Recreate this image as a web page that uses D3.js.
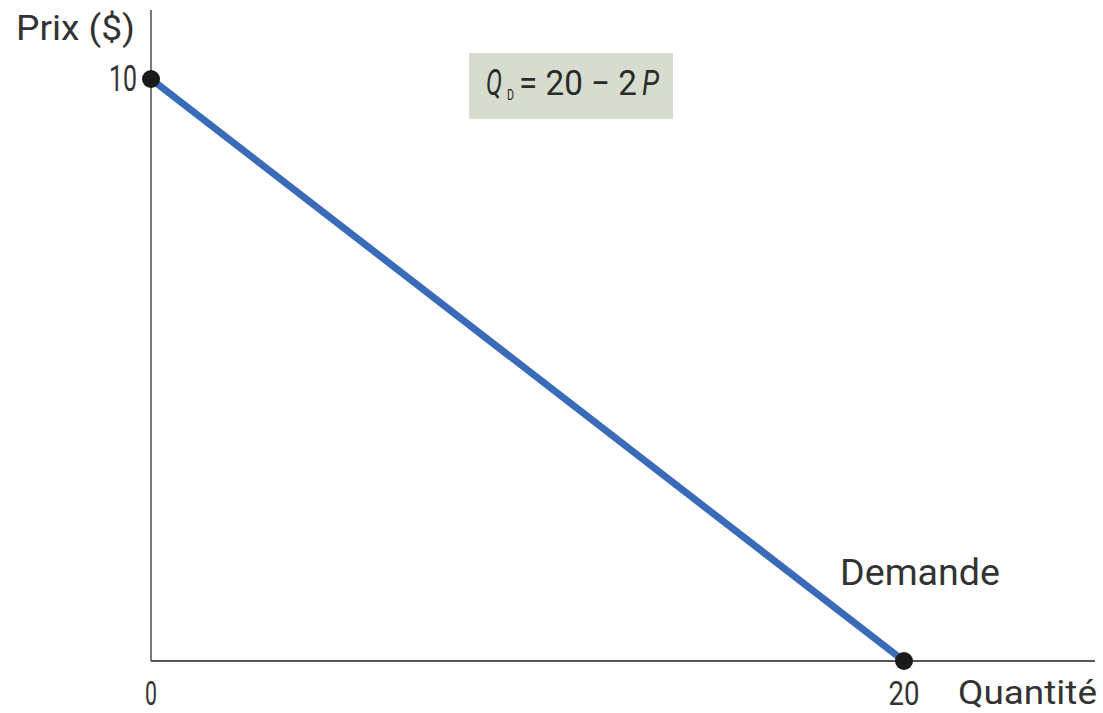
<!DOCTYPE html>
<html><head><meta charset="utf-8">
<script src="https://cdn.jsdelivr.net/npm/d3@7"></script>
<style>body{margin:0;background:#fff}</style>
</head><body>
<script>
const quantities = [0, 20];
const prices = [10, 0];
const xTicks = [0, 20];
const yTicks = [10];
const curveLabel = "Demande";
const xTitle = "Quantité";
const yTitle = "Prix ($)";

const W = 1103, H = 713;
const svg = d3.select("body").append("svg").attr("width", W).attr("height", H);
const x = d3.scaleLinear().domain([0, 20]).range([151, 904]);
const y = d3.scaleLinear().domain([0, 10]).range([661, 79]);
const font = "Roboto, sans-serif";
const txt = "#333";
const numWidth = s => String(s).length === 1 ? 12 : 31;

// axes
svg.append("line").attr("x1", x(0)).attr("x2", x(0)).attr("y1", 10).attr("y2", y(0))
  .attr("stroke", "#7a7a7a").attr("stroke-width", 2);
svg.append("line").attr("x1", x(0)).attr("x2", 1095).attr("y1", y(0)).attr("y2", y(0))
  .attr("stroke", "#555").attr("stroke-width", 2);

// tick labels (condensed digits)
svg.selectAll(".xt").data(xTicks).enter().append("text")
  .attr("x", d => x(d) - numWidth(d) / 2).attr("y", 705)
  .attr("textLength", d => numWidth(d)).attr("lengthAdjust", "spacingAndGlyphs")
  .attr("font-family", font).attr("font-size", 34).attr("fill", txt).text(d => d);
svg.selectAll(".yt").data(yTicks).enter().append("text")
  .attr("x", d => x(0) - 12 - numWidth(d) + 1).attr("y", d => y(d) + 12)
  .attr("textLength", d => numWidth(d) - 3).attr("lengthAdjust", "spacingAndGlyphs")
  .attr("font-family", font).attr("font-size", 36).attr("fill", txt).text(d => d);

// titles
svg.append("text").attr("x", 16).attr("y", 40).attr("font-family", font)
  .attr("textLength", 119).attr("lengthAdjust", "spacingAndGlyphs")
  .attr("font-size", 35).attr("fill", txt).text(yTitle);
svg.append("text").attr("x", 958).attr("y", 704).attr("font-family", font)
  .attr("textLength", 139).attr("lengthAdjust", "spacingAndGlyphs")
  .attr("font-size", 34).attr("fill", txt).text(xTitle);

// equation box
svg.append("rect").attr("x", 469).attr("y", 53).attr("width", 204).attr("height", 66).attr("fill", "#d6ddcf");
const eqParts = [
  {t: "Q", x0: 486, w: 16, it: true, fs: 36, base: 95},
  {t: "D", x0: 507, w: 7, it: false, fs: 14, base: 100},
  {t: "= 20 − 2", x0: 519, w: 118, it: false, fs: 35, base: 95},
  {t: "P", x0: 642, w: 17, it: true, fs: 35, base: 95}
];
svg.selectAll(".eq").data(eqParts).enter().append("text")
  .attr("x", d => d.x0).attr("y", d => d.base)
  .attr("textLength", d => d.w).attr("lengthAdjust", "spacingAndGlyphs")
  .attr("font-style", d => d.it ? "italic" : "normal")
  .attr("font-family", font).attr("font-size", d => d.fs).attr("fill", "#2a2a2a").text(d => d.t);

// demand line
const pts = quantities.map((q, i) => [q, prices[i]]);
svg.append("path").datum(pts)
  .attr("d", d3.line().x(d => x(d[0])).y(d => y(d[1])))
  .attr("stroke", "#3a6bb8").attr("stroke-width", 7).attr("fill", "none");
svg.selectAll(".dot").data(pts).enter().append("circle")
  .attr("cx", d => x(d[0])).attr("cy", d => y(d[1])).attr("r", 9).attr("fill", "#1a1a1a");

svg.append("text").attr("x", 840).attr("y", 585).attr("font-family", font)
  .attr("textLength", 160).attr("lengthAdjust", "spacingAndGlyphs")
  .attr("font-size", 36).attr("fill", txt).text(curveLabel);
</script>
</body></html>
